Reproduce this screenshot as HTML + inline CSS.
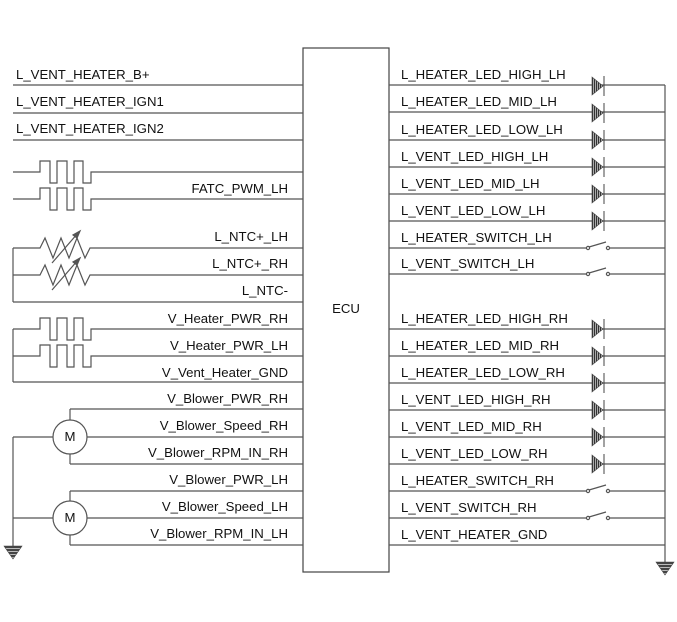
<!DOCTYPE html>
<html><head><meta charset="utf-8"><style>
html,body{margin:0;padding:0;background:#fff;}
svg{display:block;}
text{font-family:"Liberation Sans",Arial,sans-serif;font-size:13.2px;fill:#111;}
</style></head><body>
<svg width="677" height="622" viewBox="0 0 677 622" xmlns="http://www.w3.org/2000/svg">
<defs>
<pattern id="h" width="2" height="2" patternUnits="userSpaceOnUse"><rect width="1" height="2" fill="#333"/><rect x="1" width="1" height="2" fill="#aaa"/></pattern>
<pattern id="g" width="3" height="3" patternUnits="userSpaceOnUse"><rect width="3" height="2" fill="#444"/><rect y="2" width="3" height="1" fill="#bbb"/></pattern>
<g id="d"><polygon points="592,-9 592,9 603,0" fill="url(#h)" stroke="#444" stroke-width="0.6"/><line x1="604" y1="-10" x2="604" y2="10" stroke="#444" stroke-width="1"/></g>
<g id="s"><line x1="389" y1="0" x2="586" y2="0"/><circle cx="588" cy="0" r="1.6" fill="#fff"/><line x1="589" y1="-1" x2="606" y2="-6"/><circle cx="608" cy="0" r="1.6" fill="#fff"/><line x1="610" y1="0" x2="665" y2="0"/></g>
<g id="pw"><polyline fill="none" points="13,0 40,0 40,-11 50,-11 50,11 57,11 57,-11 67,-11 67,11 74,11 74,-11 83,-11 83,11 91,11 91,0 303,0"/></g>
<g id="nt"><polyline fill="none" points="13,0 40,0 45,-10 53,10 61,-10 69,10 77,-10 85,10 90,0 303,0"/><line x1="52" y1="15" x2="78" y2="-15"/><polygon points="80,-17 73,-13 77,-10" fill="#555"/></g>
<g id="gnd"><polygon points="0,0 18,0 9,13" fill="url(#g)" stroke="#444" stroke-width="0.6"/></g>
</defs>
<g stroke="#555" stroke-width="1.2" fill="none">
<rect x="303" y="48" width="86" height="524" fill="#fff" stroke="#444"/>
<line x1="13" y1="85" x2="303" y2="85"/><line x1="13" y1="113" x2="303" y2="113"/><line x1="13" y1="140" x2="303" y2="140"/>
<use href="#pw" y="172"/><use href="#pw" y="199"/>
<use href="#nt" y="248"/><use href="#nt" y="275"/>
<line x1="13" y1="302" x2="303" y2="302"/><line x1="13" y1="248" x2="13" y2="302"/>
<use href="#pw" y="329"/><use href="#pw" y="356"/>
<line x1="13" y1="382" x2="303" y2="382"/><line x1="13" y1="329" x2="13" y2="382"/>
<line x1="70" y1="409" x2="303" y2="409"/><line x1="70" y1="409" x2="70" y2="420"/>
<circle cx="70" cy="437" r="17" fill="#fff"/>
<line x1="13" y1="437" x2="53" y2="437"/><line x1="87" y1="437" x2="303" y2="437"/>
<line x1="70" y1="454" x2="70" y2="464"/><line x1="70" y1="464" x2="303" y2="464"/>
<line x1="70" y1="491" x2="303" y2="491"/><line x1="70" y1="491" x2="70" y2="501"/>
<circle cx="70" cy="518" r="17" fill="#fff"/>
<line x1="13" y1="518" x2="53" y2="518"/><line x1="87" y1="518" x2="303" y2="518"/>
<line x1="70" y1="535" x2="70" y2="545"/><line x1="70" y1="545" x2="303" y2="545"/>
<line x1="13" y1="437" x2="13" y2="546"/>
<use href="#gnd" x="4" y="546"/>
<line x1="389" y1="85" x2="665" y2="85"/><line x1="389" y1="112" x2="665" y2="112"/><line x1="389" y1="140" x2="665" y2="140"/>
<line x1="389" y1="167" x2="665" y2="167"/><line x1="389" y1="194" x2="665" y2="194"/><line x1="389" y1="221" x2="665" y2="221"/>
<use href="#s" y="248"/><use href="#s" y="274"/>
<line x1="389" y1="329" x2="665" y2="329"/><line x1="389" y1="356" x2="665" y2="356"/><line x1="389" y1="383" x2="665" y2="383"/>
<line x1="389" y1="410" x2="665" y2="410"/><line x1="389" y1="437" x2="665" y2="437"/><line x1="389" y1="464" x2="665" y2="464"/>
<use href="#s" y="491"/><use href="#s" y="518"/>
<line x1="389" y1="545" x2="665" y2="545"/>
<line x1="665" y1="85" x2="665" y2="562"/>
<use href="#gnd" x="656" y="562"/>
</g>
<use href="#d" y="86"/><use href="#d" y="113"/><use href="#d" y="140"/><use href="#d" y="167"/><use href="#d" y="194"/><use href="#d" y="221"/>
<use href="#d" y="329"/><use href="#d" y="356"/><use href="#d" y="383"/><use href="#d" y="410"/><use href="#d" y="437"/><use href="#d" y="464"/>
<text x="16" y="79">L_VENT_HEATER_B+</text>
<text x="16" y="106">L_VENT_HEATER_IGN1</text>
<text x="16" y="133">L_VENT_HEATER_IGN2</text>
<g text-anchor="end">
<text x="288" y="193">FATC_PWM_LH</text>
<text x="288" y="241">L_NTC+_LH</text>
<text x="288" y="268">L_NTC+_RH</text>
<text x="288" y="295">L_NTC-</text>
<text x="288" y="323">V_Heater_PWR_RH</text>
<text x="288" y="350">V_Heater_PWR_LH</text>
<text x="288" y="377">V_Vent_Heater_GND</text>
<text x="288" y="403">V_Blower_PWR_RH</text>
<text x="288" y="430">V_Blower_Speed_RH</text>
<text x="288" y="457">V_Blower_RPM_IN_RH</text>
<text x="288" y="484">V_Blower_PWR_LH</text>
<text x="288" y="511">V_Blower_Speed_LH</text>
<text x="288" y="538">V_Blower_RPM_IN_LH</text>
</g>
<text x="70" y="441" text-anchor="middle" font-size="11">M</text>
<text x="70" y="522" text-anchor="middle" font-size="11">M</text>
<text x="346" y="313" text-anchor="middle">ECU</text>
<text x="401" y="79">L_HEATER_LED_HIGH_LH</text>
<text x="401" y="106">L_HEATER_LED_MID_LH</text>
<text x="401" y="134">L_HEATER_LED_LOW_LH</text>
<text x="401" y="161">L_VENT_LED_HIGH_LH</text>
<text x="401" y="188">L_VENT_LED_MID_LH</text>
<text x="401" y="215">L_VENT_LED_LOW_LH</text>
<text x="401" y="242">L_HEATER_SWITCH_LH</text>
<text x="401" y="268">L_VENT_SWITCH_LH</text>
<text x="401" y="323">L_HEATER_LED_HIGH_RH</text>
<text x="401" y="350">L_HEATER_LED_MID_RH</text>
<text x="401" y="377">L_HEATER_LED_LOW_RH</text>
<text x="401" y="404">L_VENT_LED_HIGH_RH</text>
<text x="401" y="431">L_VENT_LED_MID_RH</text>
<text x="401" y="458">L_VENT_LED_LOW_RH</text>
<text x="401" y="485">L_HEATER_SWITCH_RH</text>
<text x="401" y="512">L_VENT_SWITCH_RH</text>
<text x="401" y="539">L_VENT_HEATER_GND</text>
</svg>
</body></html>
